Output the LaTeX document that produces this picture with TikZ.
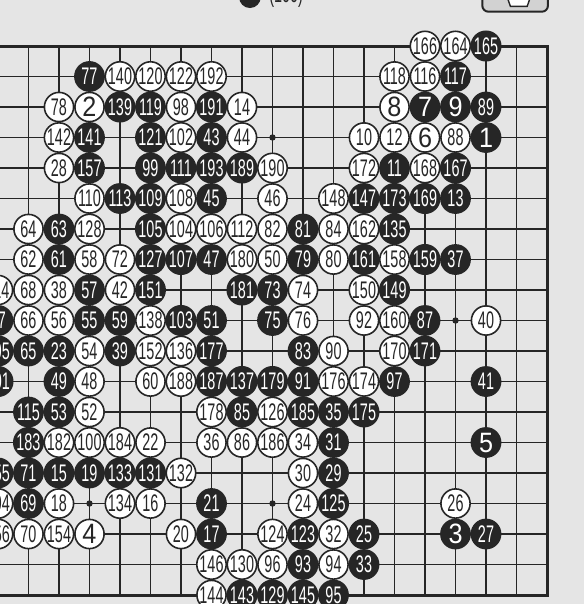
\documentclass[tikz,border=0pt]{standalone}
\usepackage{fontspec}
\newfontfamily\numfont[FakeStretch=0.6]{Liberation Sans}
\newfontfamily\digitfont[FakeStretch=0.9]{Liberation Sans}
\newcommand\stonenum[1]{\ifnum#1<10 \fontsize{14}{14}\digitfont #1\else\fontsize{12}{12}\numfont #1\fi}
\definecolor{paper}{gray}{0.9}
\definecolor{ink}{gray}{0.15}

\begin{document}
\begin{tikzpicture}[x=15.25pt,y=-15.25pt,
    gridline/.style={ink,line width=.75pt},
    bstone/.style={circle,fill=ink,draw=ink,line width=.8pt,minimum size=14.6pt,inner sep=0pt,text=white},
    wstone/.style={circle,fill=white,draw=ink,line width=.8pt,minimum size=14.6pt,inner sep=0pt,text=ink}]
    \useasboundingbox (1.0656,-0.508) rectangle (20.213,19.295);
    \clip (1.0656,-0.508) rectangle (20.213,19.295);
    \fill[paper] (1.0656,-0.508) rectangle (20.213,19.295);
    % caption remnant and picture box, cut by the page top
    \node[bstone,minimum size=10pt] (topstone) at (9.26,-0.6) {};
    \node[text=ink,inner sep=0pt] (toptext) at (10.45,-0.62) {\fontsize{12}{12}\numfont(100)};
    \draw[ink,line width=1pt,rounded corners=3pt,fill=gray!35] (16.88,-1.3) rectangle (19.03,-0.125);
    \draw[ink,line width=.7pt,fill=white] (17.45,-1.3) -- (17.8,-0.3) -- (18.35,-0.3) -- (18.7,-1.3);
    % board
    \foreach \i in {1,...,19} {
        \draw[gridline] (1,\i) -- (19,\i);
        \draw[gridline] (\i,1) -- (\i,19);
    }
    \draw[ink,line width=1.5pt] (1,1) rectangle (19,19);
    \foreach \c in {4,10,16}
        \foreach \r in {4,10,16}
            \fill[ink] (\c,\r) circle (1.6pt);
    % black stones (col/row/move)
    \foreach \c/\r/\n in {17/4/1,16/17/3,17/14/5,15/3/7,16/3/9,14/5/11,16/6/13,3/15/15,
        8/17/17,4/15/19,8/16/21,3/11/23,13/17/25,17/17/27,12/15/29,12/14/31,13/18/33,
        12/13/35,16/8/37,5/11/39,17/12/41,8/4/43,8/6/45,8/8/47,3/12/49,8/10/51,3/13/53,
        4/10/55,4/9/57,5/10/59,3/8/61,3/7/63,2/11/65,1/10/67,2/16/69,2/15/71,10/9/73,
        10/10/75,4/2/77,11/8/79,11/7/81,11/11/83,9/13/85,15/10/87,17/3/89,11/12/91,
        11/18/93,12/19/95,14/12/97,6/5/99,1/12/101,7/10/103,6/7/105,7/8/107,6/6/109,
        7/5/111,5/6/113,2/13/115,16/2/117,6/3/119,6/4/121,11/17/123,12/16/125,6/8/127,
        10/19/129,6/15/131,5/15/133,14/7/135,9/12/137,5/3/139,4/4/141,9/19/143,11/19/145,
        13/6/147,14/9/149,6/9/151,1/15/155,4/5/157,15/8/159,13/8/161,17/1/165,16/5/167,
        15/6/169,15/11/171,14/6/173,13/13/175,8/11/177,10/12/179,9/9/181,2/14/183,
        11/13/185,8/12/187,9/5/189,8/3/191,8/5/193,1/11/195}
        \node[bstone] (s\n) at (\c,\r) {\stonenum{\n}};
    % white stones (col/row/move)
    \foreach \c/\r/\n in {4/3/2,4/17/4,15/4/6,14/3/8,13/4/10,14/4/12,9/3/14,6/16/16,
        3/16/18,7/17/20,6/14/22,11/16/24,16/16/26,3/5/28,11/15/30,12/17/32,11/14/34,
        8/14/36,3/9/38,17/10/40,5/9/42,9/4/44,10/6/46,4/12/48,10/8/50,4/13/52,4/11/54,
        3/10/56,4/8/58,6/12/60,2/8/62,2/7/64,2/10/66,2/9/68,2/17/70,5/8/72,11/9/74,
        11/10/76,3/3/78,12/8/80,10/7/82,12/7/84,9/14/86,16/4/88,12/11/90,13/10/92,
        12/18/94,10/18/96,7/3/98,4/14/100,7/4/102,7/7/104,8/7/106,7/6/108,4/6/110,
        9/7/112,1/9/114,15/2/116,14/2/118,6/2/120,7/2/122,10/17/124,10/13/126,4/7/128,
        9/18/130,7/15/132,5/16/134,7/11/136,6/10/138,5/2/140,3/4/142,8/19/144,8/18/146,
        12/6/148,13/9/150,6/11/152,3/17/154,1/17/156,14/8/158,14/10/160,13/7/162,
        16/1/164,15/1/166,15/5/168,14/11/170,13/5/172,13/12/174,12/12/176,8/13/178,
        9/8/180,3/14/182,5/14/184,10/14/186,7/12/188,10/5/190,8/2/192,1/16/194}
        \node[wstone] (s\n) at (\c,\r) {\stonenum{\n}};
\end{tikzpicture}
\end{document}
